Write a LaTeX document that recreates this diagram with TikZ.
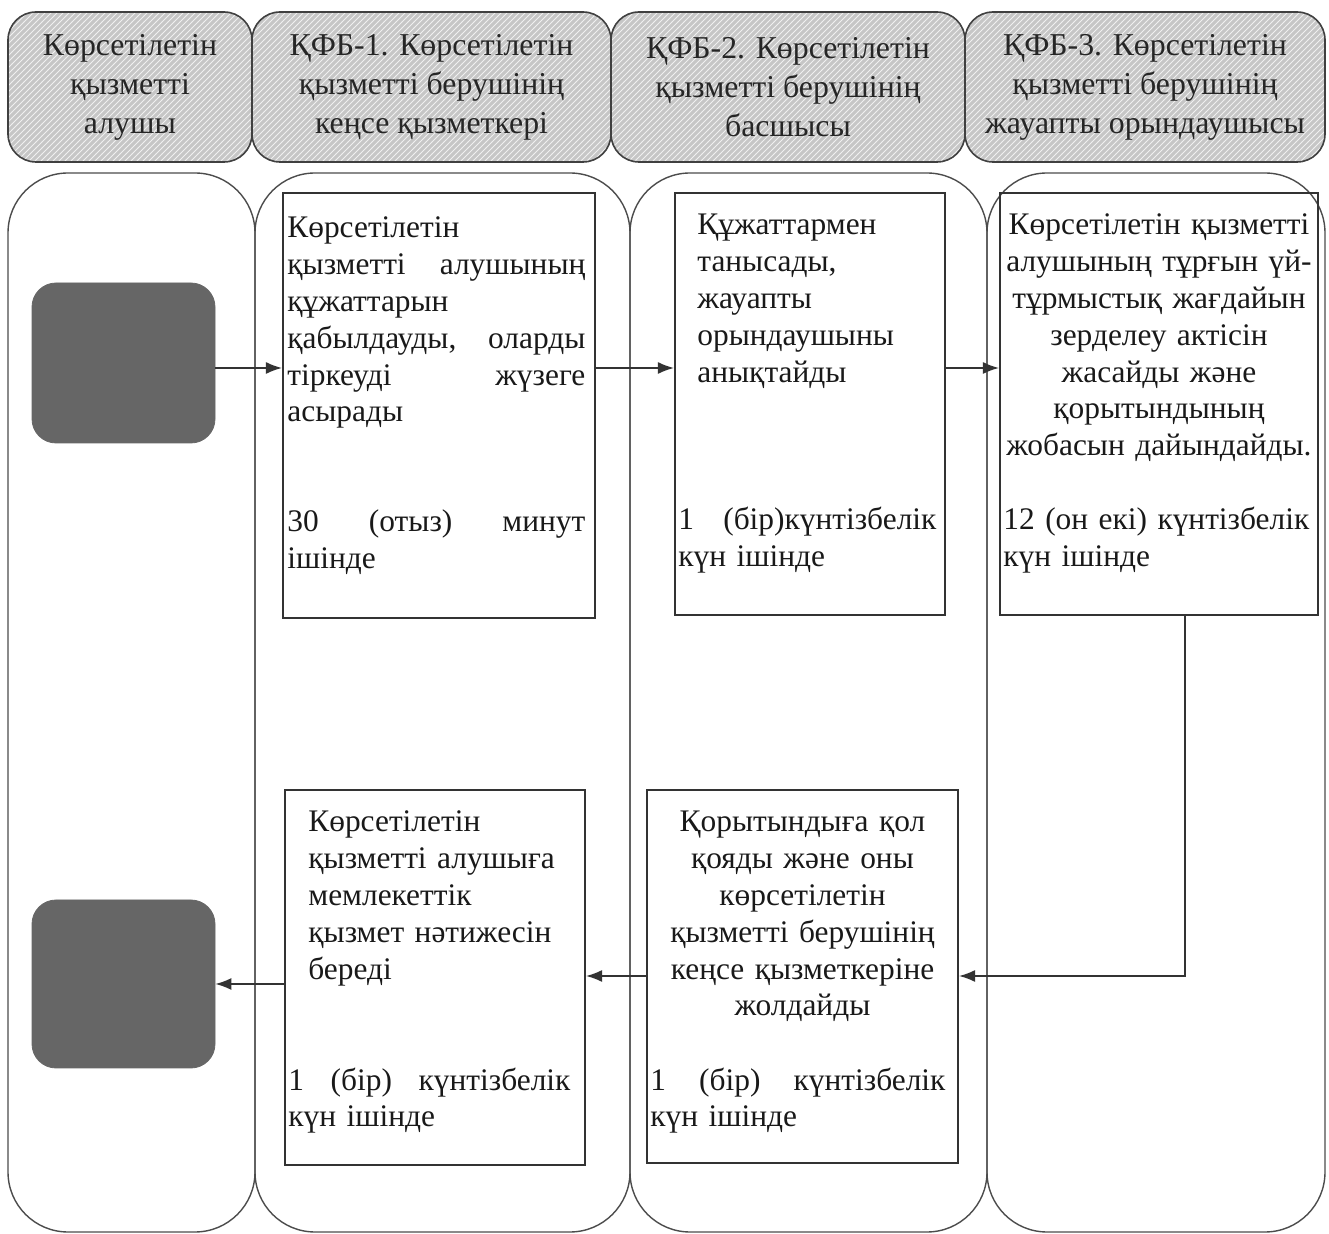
\documentclass[tikz,border=0pt]{standalone}
\usepackage{fontspec}
\setmainfont{Liberation Serif}
\usetikzlibrary{patterns,arrows.meta}
\newcommand\hdrfont{\fontsize{15.9pt}{19.5pt}\selectfont}
\newcommand\boxfont{\fontsize{15.7pt}{18.4pt}\selectfont}
\tikzset{
  hdr/.style={draw=black!75, line width=0.8pt, rounded corners=14pt,
    preaction={fill=gray!45}, pattern=north east lines, pattern color=gray!12,
    align=center, font=\hdrfont, inner sep=0pt, text=black!85},
  lane/.style={draw=black!70, line width=0.7pt, rounded corners=30pt, inner sep=0pt},
  box/.style={draw=black!80, line width=1.1pt, inner sep=0pt},
  term/.style={fill=black!60, draw=black!60, rounded corners=12pt, inner sep=0pt},
  txt/.style={inner sep=0pt, font=\boxfont, text=black!90},
  arr/.style={draw=black!80, line width=0.7pt, -{Latex[length=8pt,width=6pt]}},
  link/.style={draw=black!80, line width=0.7pt}
}
\begin{document}
\begin{tikzpicture}[x=0.5pt,y=-0.5pt]
\useasboundingbox (0,0) rectangle (1329,1234);
% headers
\node[hdr, minimum width=122pt, minimum height=75pt] (H1) at (130,87)
  {Көрсетілетін\\ қызметті\\ алушы};
\node[hdr, minimum width=179.5pt, minimum height=75pt] (H2) at (431.5,87)
  {ҚФБ-1. Көрсетілетін\\ қызметті берушінің\\ кеңсе қызметкері};
\node[hdr, minimum width=177pt, minimum height=75pt] (H3) at (788,87)
  {ҚФБ-2. Көрсетілетін\\ қызметті берушінің\\ басшысы};
\node[hdr, minimum width=180pt, minimum height=75pt] (H4) at (1145,87)
  {ҚФБ-3. Көрсетілетін\\ қызметті берушінің\\ жауапты орындаушысы};
% lanes
\node[lane, minimum width=123.5pt, minimum height=529.5pt] (L1) at (131.5,702.5) {};
\node[lane, minimum width=187.5pt, minimum height=529.5pt] (L2) at (442.5,702.5) {};
\node[lane, minimum width=178.5pt, minimum height=529.5pt] (L3) at (808.5,702.5) {};
\node[lane, minimum width=169pt, minimum height=529.5pt] (L4) at (1156,702.5) {};
% terminals
\node[term, minimum width=91.5pt, minimum height=80pt] (S1) at (123.5,363) {};
\node[term, minimum width=91.5pt, minimum height=84pt] (S2) at (123.5,984) {};
% boxes
\node[box, minimum width=156pt, minimum height=212.5pt] (A) at (439,405.5) {};
\node[box, minimum width=135pt, minimum height=211pt] (B) at (810,404) {};
\node[box, minimum width=159pt, minimum height=211pt] (C) at (1159,404) {};
\node[box, minimum width=150pt, minimum height=187.5pt] (D) at (435,977.5) {};
\node[box, minimum width=155.5pt, minimum height=186.5pt] (E) at (802.5,976.5) {};
% texts
\node[txt, anchor=base west, text width=149pt, align=left] (aT) at (287,238)
  {Көрсетілетін\\ қызметті\hfill алушының\\ құжаттарын\\ қабылдауды,\hfill оларды\\ тіркеуді\hfill жүзеге\\ асырады};
\node[txt, anchor=base west, text width=149pt, align=left] (aB) at (287,532)
  {30\hfill (отыз)\hfill минут\\ ішінде};
\node[txt, anchor=base west, text width=120pt, align=left] (bT) at (697,235)
  {Құжаттармен\\ танысады,\\ жауапты\\ орындаушыны\\ анықтайды};
\node[txt, anchor=base west, text width=129pt, align=left] (bB) at (678,530)
  {1\hfill (бір)күнтізбелік\\ күн ішінде};
\node[txt, anchor=base, text width=156pt, align=center] (cT) at (1159,235)
  {Көрсетілетін қызметті\\ алушының тұрғын үй-\\ тұрмыстық жағдайын\\ зерделеу актісін\\ жасайды және\\ қорытындының\\ жобасын дайындайды.};
\node[txt, anchor=base west, text width=156pt, align=left] (cB) at (1003,530)
  {12 (он екі) күнтізбелік\\ күн ішінде};
\node[txt, anchor=base west, text width=135pt, align=left] (dT) at (308,832)
  {Көрсетілетін\\ қызметті алушыға\\ мемлекеттік\\ қызмет нәтижесін\\ береді};
\node[txt, anchor=base west, text width=141pt, align=left] (dB) at (288,1090)
  {1\hfill (бір)\hfill күнтізбелік\\ күн ішінде};
\node[txt, anchor=base, text width=150pt, align=center] (eT) at (802.5,832)
  {Қорытындыға қол\\ қояды және оны\\ көрсетілетін\\ қызметті берушінің\\ кеңсе қызметкеріне\\ жолдайды};
\node[txt, anchor=base west, text width=147.5pt, align=left] (eB) at (650,1090)
  {1\hfill (бір)\hfill күнтізбелік\\ күн ішінде};
% connectors
\coordinate (rowTop) at (0,368);
\coordinate (cturn) at (1185,976);
\draw[arr] (S1.east |- rowTop) -- (A.west |- rowTop);
\draw[arr] (A.east |- rowTop) -- (B.west |- rowTop);
\draw[arr] (B.east |- rowTop) -- (C.west |- rowTop);
\draw[arr] (C.south -| cturn) |- (E.east |- cturn);
\draw[arr] (E.west |- cturn) -- (D.east |- cturn);
\draw[arr] (D.west |- S2.east) -- (S2.east);
\end{tikzpicture}
\end{document}
